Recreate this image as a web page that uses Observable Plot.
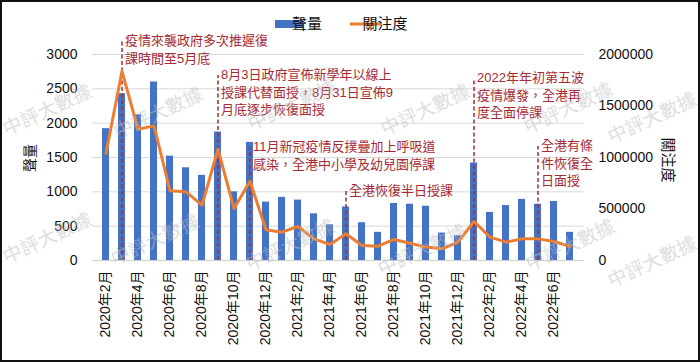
<!DOCTYPE html>
<html><head><meta charset="utf-8">
<script src="https://cdn.jsdelivr.net/npm/d3@7"></script>
<script src="https://cdn.jsdelivr.net/npm/@observablehq/plot@0.6"></script>
<style>
body{margin:0;background:#fff;}
#wrap{position:relative;width:700px;height:362px;overflow:hidden;background:#fff;}
#frame{position:absolute;left:0;top:0;width:696px;height:358px;border:2px solid #111;pointer-events:none;}
svg{display:block;}
</style></head><body><div id="wrap"><div id="frame"></div></div>
<script>
const months = ["2020年2月","2020年3月","2020年4月","2020年5月","2020年6月","2020年7月","2020年8月","2020年9月","2020年10月","2020年11月","2020年12月",
  "2021年1月","2021年2月","2021年3月","2021年4月","2021年5月","2021年6月","2021年7月","2021年8月","2021年9月","2021年10月","2021年11月","2021年12月",
  "2022年1月","2022年2月","2022年3月","2022年4月","2022年5月","2022年6月","2022年7月"];
const volume = [1920,2430,2120,2600,1520,1350,1240,1870,1000,1720,850,920,880,680,520,780,550,410,830,820,790,400,360,1420,700,800,890,820,860,410];
const attention = [1040000,1837000,1275000,1307000,676000,667000,537000,1080000,504000,770000,298000,275000,330000,210000,155000,259000,146000,139000,204000,168000,130000,113000,178000,379000,227000,178000,210000,210000,185000,136000];
const tickMonths = months.filter((m,i)=>i%2===0);
const leftTicks = [0,500,1000,1500,2000,2500,3000];
const rightTicks = [0,500000,1000000,1500000,2000000];
const annMonths = ["2020年3月","2020年9月","2020年11月","2021年5月","2022年1月","2022年5月"];
const annTexts = [
  "疫情來襲政府多次推遲復\n課時間至5月底",
  "8月3日政府宣佈新學年以線上\n授課代替面授，8月31日宣佈9\n月底逐步恢復面授",
  "11月新冠疫情反撲疊加上呼吸道\n感染，全港中小學及幼兒園停課",
  "全港恢復半日授課",
  "2022年年初第五波\n疫情爆發，全港再\n度全面停課",
  "全港有條\n件恢復全\n日面授"
];
const annLevels = [3189,2694,1646,1005,2650,1660];
const seriesNames = ["聲量","關注度"];
const watermark = "中評大數據";

const ratio = 3000/2000000;
const rows = months.map((m,i)=>({month:m, volume:volume[i], attention:attention[i]}));
const anns = annMonths.map((m,i)=>({month:m, text:annTexts[i], level:annLevels[i]}));
const font = '"Liberation Sans","Noto Sans CJK TC",sans-serif';
const barColor = "#4472C4", lineColor = "#ED7D31", annColor = "#a52a35";

const chart = Plot.plot({
  width:700, height:362, marginLeft:92, marginRight:116, marginTop:54, marginBottom:102,
  style:{fontFamily:font, fontSize:"14px", color:"#111", background:"transparent"},
  x:{domain:months, type:"band", paddingInner:0.55, paddingOuter:0.275, axis:null},
  y:{domain:[0,3000], axis:null},
  marks:[
    Plot.gridY(leftTicks,{stroke:"#d9d9d9", strokeOpacity:1}),
    Plot.barY(rows,{x:"month", y:"volume", fill:barColor}),
    Plot.ruleX(anns,{x:"month", y1:0, y2:"level", stroke:annColor, strokeWidth:1.5, strokeDasharray:"4,2.5"}),
    Plot.line(rows,{x:"month", y:d=>d.attention*ratio, stroke:lineColor, strokeWidth:3}),
    Plot.ruleY([0],{stroke:"#d0d0d0"}),
    Plot.text(anns,{x:"month", y:"level", text:"text", textAnchor:"start", lineAnchor:"top", dx:3, dy:-8.5, fill:annColor, fontSize:13, lineHeight:1.33}),
    Plot.axisY(leftTicks,{anchor:"left", tickSize:0, tickPadding:15, fontSize:14, tickFormat:d=>String(d), label:null}),
    Plot.axisY(rightTicks.map(v=>v*ratio),{anchor:"right", tickSize:0, tickPadding:14, fontSize:14, tickFormat:d=>String(Math.round(d/ratio)), label:null}),
    Plot.axisX(tickMonths,{tickRotate:-90, tickSize:0, tickPadding:10, fontSize:14, label:null})
  ]
});
document.getElementById("wrap").prepend(chart);

const svg = d3.select(chart);
// legend
const lg = svg.append("g").attr("font-family", font).attr("fill", "#111");
lg.append("rect").attr("x",275).attr("y",20).attr("width",28).attr("height",8).attr("fill",barColor);
lg.append("text").attr("x",307).attr("y",24).attr("dy","0.35em").attr("font-size",15).text(seriesNames[0]);
lg.append("line").attr("x1",350).attr("x2",382).attr("y1",24).attr("y2",24).attr("stroke",lineColor).attr("stroke-width",3);
lg.append("text").attr("x",385).attr("y",24).attr("dy","0.35em").attr("font-size",15).text(seriesNames[1]);
// axis titles
svg.append("text").attr("transform","translate(30,158) rotate(-90)").attr("text-anchor","middle").attr("dy","0.35em")
  .attr("font-family",font).attr("font-size",14).attr("fill","#111").text(seriesNames[0]);
svg.append("text").attr("transform","translate(668,160) rotate(90)").attr("text-anchor","middle").attr("dy","0.35em")
  .attr("font-family",font).attr("font-size",15).attr("fill","#111").text(seriesNames[1]);
// watermarks
const wm = svg.append("g").attr("font-family",font).attr("font-size",19).attr("fill","#bbb").attr("fill-opacity",0.5).attr("text-anchor","middle");
[[47,110],[158,113],[292,105],[425,110],[568,108],[652,118],[47,238],[155,240],[290,245],[422,250],[570,245],[652,262]].forEach(([x,y])=>{
  wm.append("text").attr("transform",`translate(${x},${y}) rotate(-25)`).attr("dy","0.35em").text(watermark);
});
</script></body></html>
